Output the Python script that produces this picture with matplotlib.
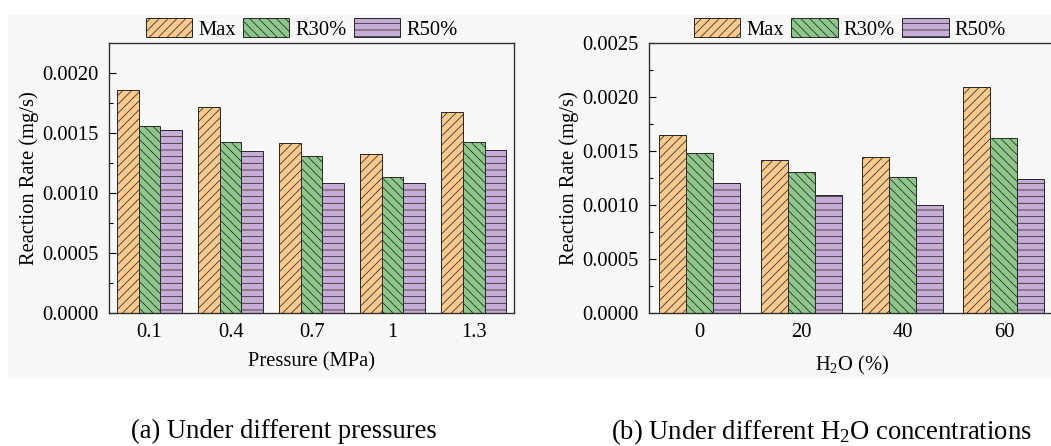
import matplotlib

matplotlib.use("Agg")
import matplotlib.pyplot as plt
import numpy as np
from matplotlib.patches import Patch, Rectangle


SERIES = ["Max", "R30%", "R50%"]

PRESSURE_LABELS = ["0.1", "0.4", "0.7", "1", "1.3"]
PRESSURE_MAX = [0.001858, 0.001714, 0.001414, 0.001319, 0.001669]
PRESSURE_R30 = [0.001558, 0.001422, 0.001303, 0.001133, 0.001422]
PRESSURE_R50 = [0.001522, 0.001350, 0.001083, 0.001078, 0.001358]

H2O_LABELS = ["0", "20", "40", "60"]
H2O_MAX = [0.001642, 0.001410, 0.001444, 0.002090]
H2O_R30 = [0.001478, 0.001300, 0.001256, 0.001620]
H2O_R50 = [0.001201, 0.001086, 0.001000, 0.001241]

COLORS = ["#FDC98C", "#8EC68C", "#C5ADD6"]
HATCHES = ["///", "\\\\\\", "--"]
EDGE = "#2b2b2b"
FS = 18.5

plt.rcParams["font.family"] = ["Liberation Serif", "DejaVu Serif"]
plt.rcParams["mathtext.fontset"] = "custom"
plt.rcParams["mathtext.rm"] = "Liberation Serif"
plt.rcParams["mathtext.it"] = "Liberation Serif:italic"
plt.rcParams["hatch.linewidth"] = 0.7
plt.rcParams["hatch.color"] = EDGE


def draw_panel(ax, labels, series, ylim, yticks, xlabel):
    x = np.arange(len(labels))
    w = 0.8 / 3
    for j, values in enumerate(series):
        ax.bar(x + (j - 1) * w, values, w, color=COLORS[j], hatch=HATCHES[j],
               edgecolor=EDGE, linewidth=0.9, zorder=2)
    ax.set_xlim(-0.5, len(labels) - 0.5)
    ax.set_ylim(*ylim)
    ax.set_xticks(x)
    ax.set_xticklabels(labels)
    ax.set_yticks(yticks)
    ax.set_yticklabels([f"{t:.4f}" for t in yticks])
    ax.set_yticks(np.arange(0.00025, ylim[1], 0.0005), minor=True)
    ax.tick_params(axis="x", length=0, pad=9, labelsize=FS)
    ax.tick_params(axis="y", which="major", direction="in", length=6, width=1.0, pad=9, labelsize=FS)
    ax.tick_params(axis="y", which="minor", direction="in", length=3.5, width=1.0)
    ax.set_facecolor("none")
    for sp in ax.spines.values():
        sp.set_linewidth(1.2)
        sp.set_color(EDGE)
    ax.set_xlabel(xlabel, fontsize=FS, va="center")
    ax.xaxis.set_label_coords(0.5, -0.18)
    ax.set_ylabel("Reaction Rate (mg/s)", fontsize=FS, va="center")
    ax.yaxis.set_label_coords(-0.198, 0.5)

    handles = [Patch(facecolor=COLORS[j], hatch=HATCHES[j], edgecolor=EDGE, linewidth=0.9)
               for j in range(3)]
    return handles


def main():
    fig = plt.figure(figsize=(1051 / 80, 446 / 80), dpi=80)
    fig.patches.append(Rectangle((8 / 1051, 68 / 446), 1043 / 1051, 363 / 446,
                                 transform=fig.transFigure, facecolor="#F8F8F8",
                                 edgecolor="none", zorder=-10))

    ax1 = fig.add_axes([0.1037, 0.2982, 0.3856, 0.6065])
    ax2 = fig.add_axes([0.6175, 0.2982, 0.3859, 0.6065])

    h = draw_panel(ax1, PRESSURE_LABELS, [PRESSURE_MAX, PRESSURE_R30, PRESSURE_R50],
                   (0, 0.00225), np.arange(0, 0.00201, 0.0005), "Pressure (MPa)")
    draw_panel(ax2, H2O_LABELS, [H2O_MAX, H2O_R30, H2O_R50],
               (0, 0.0025), np.arange(0, 0.00251, 0.0005), "H$_2$O (%)")
    ax2.xaxis.set_label_coords(0.5, -0.195)

    for cx in (0.2869, 0.8088):
        fig.legend(h, SERIES, loc="center", bbox_to_anchor=(cx, 0.9357), ncol=3,
                   frameon=False, fontsize=FS, handlelength=2.25, handleheight=1.1,
                   handletextpad=0.3, columnspacing=0.35, borderpad=0, borderaxespad=0)

    fig.text(0.270, 0.032, "(a) Under different pressures", fontsize=24,
             ha="center", va="center")
    fig.text(0.782, 0.032, "(b) Under different H$_2$O concentrations", fontsize=24,
             ha="center", va="center")

    fig.savefig("out.png", dpi=80)
    plt.close(fig)


if __name__ == "__main__":
    main()
